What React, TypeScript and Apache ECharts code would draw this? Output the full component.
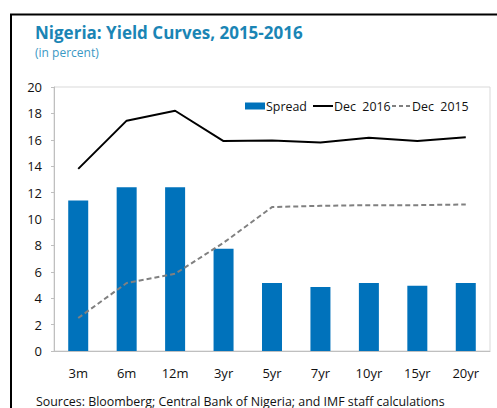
import React, { useEffect, useRef } from "react";
import * as echarts from "echarts";

const categories = ["3m", "6m", "12m", "3yr", "5yr", "7yr", "10yr", "15yr", "20yr"];
const spread = [11.4, 12.4, 12.4, 7.75, 5.15, 4.85, 5.15, 4.95, 5.15];
const dec2016 = [13.8, 17.45, 18.2, 15.9, 15.95, 15.8, 16.15, 15.9, 16.2];
const dec2015 = [2.5, 5.15, 5.85, 8.2, 10.9, 11.0, 11.05, 11.05, 11.1];
const seriesNames = ["Spread", "Dec  2016", "Dec  2015"];
const yTicks = { min: 0, max: 20, interval: 2 };

const FONT = "'Open Sans', 'Noto Sans', sans-serif";

export default function App() {
  const ref = useRef<HTMLDivElement>(null);
  useEffect(() => {
    if (!ref.current) return;
    const chart = echarts.init(ref.current, undefined, { renderer: "svg" });
    const legendFont = `12.4px ${FONT}`;
    chart.setOption({
      animation: false,
      backgroundColor: "#ffffff",
      textStyle: { fontFamily: FONT },
      graphic: [
        {
          type: "rect",
          shape: { x: 11, y: 14.5, width: 520, height: 420 },
          style: { fill: "none", stroke: "#000000", lineWidth: 2 },
          silent: true,
        },
        {
          type: "text",
          left: 35,
          top: 24,
          style: {
            text: "Nigeria: Yield Curves, 2015-2016",
            fill: "#1a85b5",
            font: `bold 17px ${FONT}`,
          },
        },
        {
          type: "text",
          left: 35,
          top: 46,
          style: {
            text: "(in percent)",
            fill: "#3a98c4",
            font: `12px ${FONT}`,
          },
        },
        {
          type: "text",
          left: 36,
          top: 395,
          style: {
            text: "Sources: Bloomberg; Central Bank of Nigeria; and IMF staff calculations",
            fill: "#111111",
            font: `12.4px ${FONT}`,
          },
        },
        // legend
        {
          type: "rect",
          shape: { x: 245, y: 102.5, width: 20, height: 7 },
          style: { fill: "#0072bb" },
        },
        {
          type: "text",
          x: 266,
          y: 106,
          style: { text: seriesNames[0], fill: "#111111", font: legendFont, verticalAlign: "middle" },
        },
        {
          type: "line",
          shape: { x1: 313, y1: 106, x2: 333, y2: 106 },
          style: { stroke: "#000000", lineWidth: 2 },
        },
        {
          type: "text",
          x: 334,
          y: 106,
          style: { text: seriesNames[1], fill: "#111111", font: legendFont, verticalAlign: "middle" },
        },
        {
          type: "line",
          shape: { x1: 392, y1: 106, x2: 411, y2: 106 },
          style: { stroke: "#808080", lineWidth: 2, lineDash: [4, 3] },
        },
        {
          type: "text",
          x: 412,
          y: 106,
          style: { text: seriesNames[2], fill: "#111111", font: legendFont, verticalAlign: "middle" },
        },
      ],
      grid: {
        left: 54,
        top: 87,
        right: 7,
        bottom: 57,
        show: true,
        borderColor: "#d9d9d9",
        borderWidth: 1,
      },
      xAxis: {
        type: "category",
        data: categories,
        axisLine: { lineStyle: { color: "#bfbfbf" } },
        axisTick: { inside: true, length: 4, lineStyle: { color: "#bfbfbf" } },
        axisLabel: { color: "#111111", fontSize: 13, margin: 15, fontFamily: FONT },
      },
      yAxis: {
        type: "value",
        min: yTicks.min,
        max: yTicks.max,
        interval: yTicks.interval,
        axisLine: { show: true, lineStyle: { color: "#bfbfbf" } },
        axisTick: { show: true, length: 3, lineStyle: { color: "#bfbfbf" } },
        splitLine: { show: false },
        axisLabel: { color: "#111111", fontSize: 13, margin: 12, fontFamily: FONT },
      },
      series: [
        {
          name: seriesNames[0],
          type: "bar",
          data: spread,
          barWidth: 20,
          itemStyle: { color: "#0072bb" },
        },
        {
          name: seriesNames[1],
          type: "line",
          data: dec2016,
          symbol: "none",
          lineStyle: { color: "#000000", width: 2 },
        },
        {
          name: seriesNames[2],
          type: "line",
          data: dec2015,
          symbol: "none",
          lineStyle: { color: "#808080", width: 2, type: [5, 3] },
        },
      ],
    });
    return () => chart.dispose();
  }, []);
  return (
    <div
      ref={ref}
      style={{ position: "fixed", left: 0, top: 0, width: 497, height: 408 }}
    />
  );
}
